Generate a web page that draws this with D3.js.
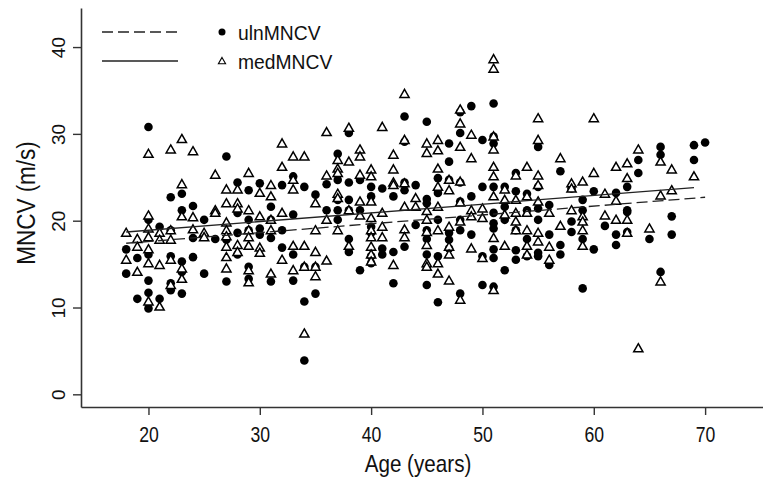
<!DOCTYPE html>
<html>
<head>
<meta charset="utf-8">
<script src="https://cdn.jsdelivr.net/npm/d3@7"></script>
<style>
  body { margin: 0; background: #fff; }
  svg { display: block; }
  text { font-family: "Liberation Sans", Arial, sans-serif; }
</style>
</head>
<body>
<main></main>
<script>
const width = 763;
const height = 483;

// [age, MNCV] pairs
const ulnPoints = [
  [18,16.7],[18,13.9],[19,15.7],[19,11.0],
  [20,30.8],[20,20.1],[20,16.1],[20,13.1],[20,11.7],[20,9.9],
  [21,19.3],[21,11.0],
  [22,22.7],[22,18.9],[22,15.9],[22,12.8],[22,12.0],
  [23,23.1],[23,21.2],[23,15.3],[23,14.1],[23,11.6],
  [24,21.7],[24,18.0],[24,15.8],[25,20.1],[25,13.9],[26,17.9],
  [27,27.4],[27,17.8],[27,13.0],
  [28,24.4],[28,20.9],[28,18.6],[28,16.1],
  [29,23.5],[29,20.1],[29,18.9],[29,14.7],[29,13.3],
  [30,24.3],[30,19.1],[30,18.4],
  [31,21.6],[31,20.1],[31,18.0],[31,13.0],
  [32,24.1],[32,18.9],[32,16.9],
  [33,25.1],[33,20.7],[33,16.1],[33,13.1],
  [34,23.9],[34,14.7],[34,10.7],[34,3.9],
  [35,23.0],[35,14.7],[35,11.6],
  [36,24.2],[36,21.2],
  [37,27.7],[37,24.7],[37,22.4],[37,21.2],[37,20.1],
  [38,30.1],[38,24.4],[38,22.4],[38,21.2],[38,17.9],[38,16.4],
  [39,24.7],[39,21.2],[39,14.3],
  [40,23.9],[40,22.8],[40,19.3],[40,18.6],[40,15.9],[40,15.1],
  [41,23.7],[41,16.8],[41,16.1],
  [42,22.8],[42,16.4],[42,12.8],
  [43,32.0],[43,29.1],[43,24.4],[43,23.5],[43,17.0],
  [44,24.1],[44,19.5],
  [45,31.4],[45,22.5],[45,22.0],[45,18.9],[45,17.9],[45,16.1],[45,14.7],[45,12.6],
  [46,24.9],[46,23.2],[46,20.1],[46,15.9],[46,10.6],
  [47,28.9],[47,26.8],[47,24.7],[47,18.6],[47,17.8],[47,16.8],
  [48,32.5],[48,30.1],[48,24.4],[48,22.2],[48,20.1],[48,18.9],[48,11.6],
  [49,33.2],[49,22.8],[49,18.4],
  [50,29.3],[50,23.9],[50,15.9],[50,12.6],
  [51,33.5],[51,29.7],[51,28.9],[51,23.9],[51,20.9],[51,19.7],[51,19.1],[51,16.7],[51,15.7],[51,12.4],
  [52,23.9],[52,21.6],[52,20.1],[52,14.3],
  [53,25.5],[53,23.4],[53,18.9],[53,16.6],[53,15.5],
  [54,23.1],[54,21.2],[54,17.9],[54,15.9],
  [55,28.5],[55,23.9],[55,21.4],[55,20.1],[55,16.3],[55,15.9],
  [56,21.8],[56,18.4],[56,14.9],
  [57,25.7],[57,17.2],[57,16.1],
  [58,23.7],[58,19.9],[58,18.7],
  [59,22.4],[59,21.2],[59,17.9],[59,12.2],
  [60,23.4],[60,16.7],
  [61,19.4],
  [62,23.2],[62,18.4],[62,17.2],
  [63,23.9],[63,21.2],[63,21.0],[63,18.7],
  [64,27.0],[64,25.5],
  [65,17.9],
  [66,28.5],[66,27.6],[66,14.1],
  [67,20.5],[67,18.4],
  [69,28.7],[69,27.0],
  [70,29.0]
];

const medPoints = [
  [18,18.6],[18,15.5],[19,17.9],[19,17.0],[19,14.1],
  [20,27.7],[20,20.6],[20,19.1],[20,18.1],[20,16.7],[20,15.1],[20,10.7],
  [21,18.6],[21,17.8],[21,14.9],[21,10.1],
  [22,28.2],[22,18.9],[22,17.8],[22,15.5],[22,12.6],
  [23,29.4],[23,24.2],[23,20.5],[23,14.5],[23,13.3],
  [24,28.0],[24,20.4],[24,19.0],
  [25,18.6],[25,18.1],
  [26,25.3],[26,21.2],[26,20.9],
  [27,23.6],[27,22.0],[27,19.8],[27,18.9],[27,18.2],[27,17.0],[27,15.8],[27,14.5],
  [28,23.6],[28,22.0],[28,21.4],[28,17.2],[28,16.4],
  [29,25.5],[29,21.2],[29,18.9],[29,18.1],[29,17.1],[29,14.3],[29,12.9],
  [30,23.2],[30,20.5],[30,16.9],[30,16.3],
  [31,24.1],[31,22.8],[31,20.1],[31,18.9],[31,13.9],
  [32,28.9],[32,26.2],[32,20.9],[32,15.5],
  [33,27.4],[33,24.7],[33,23.6],[33,17.1],[33,14.3],
  [34,27.4],[34,17.1],[34,14.7],[34,7.0],
  [35,22.0],[35,18.9],[35,16.4],[35,14.7],[35,13.6],
  [36,30.2],[36,25.2],[36,20.1],[36,15.4],
  [37,27.0],[37,26.0],[37,25.5],[37,23.1],[37,22.6],[37,18.9],
  [38,30.7],[38,26.8],[38,21.2],[38,17.1],
  [39,28.2],[39,27.4],[39,25.3],[39,22.2],[39,20.6],
  [40,25.9],[40,25.1],[40,22.2],[40,20.3],[40,18.9],[40,18.1],[40,17.0],[40,16.1],[40,15.3],
  [41,30.8],[41,20.9],[41,19.3],[41,18.1],
  [42,27.6],[42,25.9],[42,24.4],[42,24.1],[42,14.9],
  [43,34.6],[43,29.3],[43,24.3],[43,21.6],[43,19.0],[43,18.1],
  [44,22.6],[44,21.6],
  [45,28.9],[45,27.8],[45,21.1],[45,20.1],[45,18.7],[45,17.2],[45,15.1],[45,14.7],
  [46,29.3],[46,28.1],[46,26.0],[46,23.9],[46,21.6],[46,18.9],[46,15.1],[46,13.9],
  [47,24.7],[47,23.5],[47,19.3],[47,17.0],[47,16.1],[47,13.1],
  [48,32.8],[48,31.2],[48,28.5],[48,24.5],[48,22.1],[48,19.9],[48,10.9],
  [49,29.9],[49,27.2],[49,21.2],[49,20.5],[49,16.8],
  [50,21.4],[50,20.3],[50,15.7],
  [51,38.6],[51,37.5],[51,29.7],[51,28.2],[51,26.2],[51,25.1],[51,22.8],[51,18.0],[51,12.0],
  [52,23.6],[52,22.4],[52,20.7],[52,17.1],
  [53,25.2],[53,22.4],[53,20.9],[53,19.9],[53,18.9],
  [54,26.2],[54,22.8],[54,20.9],[54,18.9],[54,17.1],[54,16.1],
  [55,31.8],[55,29.3],[55,25.2],[55,24.1],[55,22.2],[55,18.6],[55,17.6],
  [56,20.9],[56,17.0],[56,15.5],
  [57,27.2],[57,19.4],
  [58,24.3],[58,23.7],[58,21.2],
  [59,24.5],[59,20.5],[59,19.9],[59,18.9],[59,17.1],
  [60,31.8],[60,25.5],
  [61,23.1],[61,20.6],
  [62,26.2],[62,22.3],[62,20.1],
  [63,26.6],[63,24.9],[63,20.1],[63,18.6],
  [64,28.2],[64,5.3],
  [65,19.1],
  [66,26.8],[66,22.9],[66,13.0],
  [67,25.9],[67,23.5],
  [69,25.1]
];

// fitted lines (end points of each regression line)
const ulnFit = [[18,17.4],[70,22.7]];
const medFit = [[18,18.7],[69,23.8]];

const xTicks = [20, 30, 40, 50, 60, 70];
const yTicks = [0, 10, 20, 30, 40];

const legendItems = [
  {label: 'ulnMNCV', dash: '11,5', marker: 'dot'},
  {label: 'medMNCV', dash: null, marker: 'tri'}
];

const xScale = d3.scaleLinear().domain([13.94, 75.2]).range([81, 763]);
const yScale = d3.scaleLinear().domain([-1.46, 44.5]).range([407, 8]);

const triPath = (s) => `M0,${-s}L${s},${s * 0.75}L${-s},${s * 0.75}Z`;

const svg = d3.select('main')
              .append('svg')
              .attr('width', width)
              .attr('height', height);

// axes
const xAxis = svg.append('g')
   .attr('transform', 'translate(0,407)')
   .call(d3.axisBottom(xScale).tickValues(xTicks).tickSize(8).tickSizeOuter(0));
xAxis.select('.domain').attr('stroke', '#333').attr('stroke-width', 1.6);
xAxis.selectAll('.tick line').attr('stroke', '#333').attr('stroke-width', 1.4);
xAxis.selectAll('.tick text')
     .attr('y', null).attr('dy', null)
     .attr('transform', 'translate(0,35) scale(0.8,1)')
     .attr('font-size', 22).attr('fill', '#111');

const yAxis = svg.append('g')
   .attr('transform', 'translate(81,0)')
   .call(d3.axisLeft(yScale).tickValues(yTicks).tickSize(8).tickSizeOuter(0));
yAxis.select('.domain').attr('stroke', '#333').attr('stroke-width', 1.6);
yAxis.selectAll('.tick line').attr('stroke', '#333').attr('stroke-width', 1.4);
yAxis.selectAll('.tick text')
     .attr('x', null).attr('dy', null)
     .attr('text-anchor', 'middle')
     .attr('transform', 'translate(-23,0) rotate(-90)')
     .attr('dy', '0.35em')
     .attr('font-size', 19).attr('fill', '#111');

// axis titles
svg.append('text')
   .attr('transform', 'translate(418,472) scale(0.86,1)')
   .attr('text-anchor', 'middle')
   .attr('font-size', 24).attr('fill', '#111')
   .text('Age (years)');

svg.append('text')
   .attr('transform', 'translate(35,203) rotate(-90) scale(0.9,1)')
   .attr('text-anchor', 'middle')
   .attr('font-size', 25).attr('fill', '#111')
   .text('MNCV (m/s)');

// points: dots first, white triangles on top
svg.append('g').selectAll('circle')
   .data(ulnPoints)
   .enter()
   .append('circle')
   .attr('cx', d => xScale(d[0]))
   .attr('cy', d => yScale(d[1]))
   .attr('r', 4.3)
   .attr('fill', '#000');

svg.append('g').selectAll('path')
   .data(medPoints)
   .enter()
   .append('path')
   .attr('d', triPath(4.6))
   .attr('transform', d => `translate(${xScale(d[0])},${yScale(d[1])})`)
   .attr('fill', '#fff')
   .attr('stroke', '#000')
   .attr('stroke-width', 1.5);

// fitted lines
const line = d3.line().x(d => xScale(d[0])).y(d => yScale(d[1]));
svg.append('path').datum(ulnFit)
   .attr('d', line).attr('fill', 'none')
   .attr('stroke', '#222').attr('stroke-width', 1.3)
   .attr('stroke-dasharray', '11,5');
svg.append('path').datum(medFit)
   .attr('d', line).attr('fill', 'none')
   .attr('stroke', '#222').attr('stroke-width', 1.3);

// legend
const legend = svg.append('g');
legendItems.forEach((item, i) => {
    const y = 32 + i * 29;
    legend.append('line')
          .attr('x1', 102).attr('x2', 178).attr('y1', y).attr('y2', y)
          .attr('stroke', '#222').attr('stroke-width', 1.3)
          .attr('stroke-dasharray', item.dash);
    if (item.marker === 'dot') {
        legend.append('circle').attr('cx', 222).attr('cy', y).attr('r', 3.5).attr('fill', '#000');
    } else {
        legend.append('path').attr('d', triPath(3.6))
              .attr('transform', `translate(222,${y})`)
              .attr('fill', '#fff').attr('stroke', '#000').attr('stroke-width', 1.1);
    }
    legend.append('text')
          .attr('transform', `translate(238,${y}) scale(0.92,1)`)
          .attr('dy', '0.36em')
          .attr('font-size', 21).attr('fill', '#111')
          .text(item.label);
});
</script>
</body>
</html>
